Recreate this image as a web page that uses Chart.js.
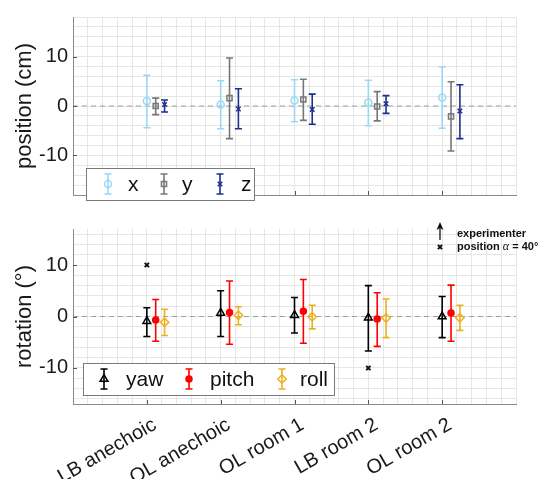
<!DOCTYPE html>
<html>
<head>
<meta charset="utf-8">
<script src="https://cdn.jsdelivr.net/npm/chart.js@4.4.1/dist/chart.umd.min.js"></script>
<style>
  html, body { margin: 0; padding: 0; background: #fff; }
  #wrap { position: relative; width: 546px; height: 479px; overflow: hidden; }
  #posBox { position: absolute; left: 0; top: 0; width: 546px; height: 212px; }
  #rotBox { position: absolute; left: 0; top: 212px; width: 546px; height: 267px; }
</style>
</head>
<body>
<div id="wrap">
  <div id="posBox"><canvas id="posChart" width="546" height="212"></canvas></div>
  <div id="rotBox"><canvas id="rotChart" width="546" height="267"></canvas></div>
</div>
<script>
// --- 1. Data ---
const categories = ['LB anechoic', 'OL anechoic', 'OL room 1', 'LB room 2', 'OL room 2'];
const seriesOffset = [0, 0.12, 0.24];

// position (cm): mean, bottom and top of the error bar
const posX     = [1.0, 0.3, 1.1, 0.7, 1.7];
const posXLow  = [-4.4, -4.6, -3.2, -4.0, -4.5];
const posXHigh = [6.2, 5.1, 5.3, 5.2, 7.9];
const posY     = [0.0, 1.6, 1.3, -0.1, -2.1];
const posYLow  = [-1.75, -6.6, -2.9, -3.0, -9.1];
const posYHigh = [1.6, 9.7, 5.4, 2.9, 4.9];
const posZ     = [0.3, -0.6, -0.7, 0.45, -1.0];
const posZLow  = [-1.2, -4.6, -3.7, -1.5, -6.6];
const posZHigh = [1.2, 3.5, 2.4, 2.1, 4.3];

// rotation (deg)
const rotYaw       = [-0.9, 0.7, 0.26, -0.26, 0.0];
const rotYawLow    = [-3.9, -3.9, -3.2, -6.7, -4.1];
const rotYawHigh   = [1.7, 5.0, 3.7, 6.0, 3.9];
const rotPitch     = [-0.7, 0.8, 1.0, -0.5, 0.7];
const rotPitchLow  = [-4.8, -5.4, -5.2, -5.8, -4.8];
const rotPitchHigh = [3.3, 6.9, 7.2, 4.6, 6.1];
const rotRoll      = [-1.1, 0.26, -0.07, -0.3, -0.26];
const rotRollLow   = [-3.7, -1.6, -2.4, -4.1, -2.7];
const rotRollHigh  = [1.4, 1.9, 2.2, 3.4, 2.2];

// experimenter position alpha = 40 deg
const expCategory = [1, 4];
const expRotation = [10, -10];

const yTickLabels = [-10, 0, 10];

// --- 2. Helpers ---
Chart.defaults.font.family = "'Liberation Sans', Arial, sans-serif";
Chart.defaults.color = '#1a1a1a';

function seriesData(means, k) {
  return means.map((m, i) => ({ x: i + 1 + seriesOffset[k], y: m }));
}

function errSeries(label, means, low, high, k, color, style, radius, filled) {
  return {
    label: label,
    data: seriesData(means, k),
    low: low,
    high: high,
    borderColor: color,
    pointStyle: style,
    pointRadius: radius,
    pointBorderWidth: 1.5,
    pointBorderColor: color,
    pointBackgroundColor: filled ? color : 'rgba(0,0,0,0)',
    showLine: false,
    order: 1
  };
}

function zeroLine() {
  return {
    type: 'line',
    data: [{ x: 0, y: 0 }, { x: 6, y: 0 }],
    borderColor: '#a0a0a0',
    borderWidth: 1.2,
    borderDash: [5, 4],
    pointRadius: 0,
    order: 10
  };
}

// grid every 0.2 on x, every 2 on y
function gridTicks(from, to, step) {
  const out = [];
  const n = Math.round((to - from) / step);
  for (let i = 0; i <= n; i++) out.push({ value: +(from + i * step).toFixed(3) });
  return out;
}

// error bars drawn through the chart scales
const errorBars = {
  id: 'errorBars',
  afterDatasetsDraw(chart) {
    const { ctx, scales: { x, y } } = chart;
    chart.data.datasets.forEach(ds => {
      if (!ds.low) return;
      ctx.save();
      ctx.strokeStyle = ds.borderColor;
      ctx.lineWidth = 1.6;
      ds.data.forEach((p, j) => {
        const px = x.getPixelForValue(p.x);
        const top = y.getPixelForValue(ds.high[j]);
        const bot = y.getPixelForValue(ds.low[j]);
        ctx.beginPath();
        ctx.moveTo(px, top); ctx.lineTo(px, bot);
        ctx.moveTo(px - 3.5, top); ctx.lineTo(px + 3.5, top);
        ctx.moveTo(px - 3.5, bot); ctx.lineTo(px + 3.5, bot);
        ctx.stroke();
      });
      ctx.restore();
    });
  }
};

// inward ticks, legend box and the note
const panelExtras = {
  id: 'panelExtras',
  afterDraw(chart, args, opts) {
    const { ctx, scales: { x, y } } = chart;
    ctx.save();
    ctx.strokeStyle = '#555';
    ctx.lineWidth = 1;
    ctx.beginPath();
    categories.forEach((c, i) => {
      const px = Math.round(x.getPixelForValue(i + 1)) + 0.5;
      ctx.moveTo(px, y.bottom); ctx.lineTo(px, y.bottom - 4);
    });
    yTickLabels.forEach(v => {
      const py = Math.round(y.getPixelForValue(v)) + 0.5;
      ctx.moveTo(x.left, py); ctx.lineTo(x.left + 4, py);
    });
    ctx.stroke();

    // legend
    const lg = opts.legend;
    if (lg) {
      const [x0, y0, x1, y1] = lg.box;
      ctx.fillStyle = '#fff';
      ctx.fillRect(x0, y0, x1 - x0, y1 - y0);
      ctx.strokeStyle = '#7a7a7a';
      ctx.lineWidth = 1;
      ctx.strokeRect(x0 + 0.5, y0 + 0.5, x1 - x0, y1 - y0);
      const cy = (y0 + y1) / 2;
      lg.items.forEach((it, n) => {
        const ds = chart.data.datasets[it.dataset];
        ctx.strokeStyle = ds.borderColor;
        ctx.lineWidth = 1.6;
        ctx.beginPath();
        ctx.moveTo(it.iconX, cy - 10); ctx.lineTo(it.iconX, cy + 10);
        ctx.moveTo(it.iconX - 3.5, cy - 10); ctx.lineTo(it.iconX + 3.5, cy - 10);
        ctx.moveTo(it.iconX - 3.5, cy + 10); ctx.lineTo(it.iconX + 3.5, cy + 10);
        ctx.stroke();
        ctx.fillStyle = ds.pointBackgroundColor;
        ctx.lineWidth = 1.5;
        Chart.helpers.drawPoint(ctx, { pointStyle: ds.pointStyle, radius: ds.pointRadius, rotation: 0, borderWidth: 1.5 }, it.iconX, cy);
        ctx.fillStyle = '#111';
        ctx.font = "21px 'Liberation Sans', Arial, sans-serif";
        ctx.textBaseline = 'middle';
        ctx.textAlign = 'left';
        ctx.fillText(ds.label, it.textX, cy + 1);
      });
    }

    // experimenter note
    const nt = opts.note;
    if (nt) {
      ctx.strokeStyle = '#111';
      ctx.fillStyle = '#111';
      ctx.lineWidth = 1.3;
      ctx.beginPath();
      ctx.moveTo(nt.x, nt.arrowTop + 4); ctx.lineTo(nt.x, nt.arrowBottom);
      ctx.stroke();
      ctx.beginPath();
      ctx.moveTo(nt.x, nt.arrowTop);
      ctx.lineTo(nt.x - 3.5, nt.arrowTop + 8);
      ctx.lineTo(nt.x, nt.arrowTop + 6);
      ctx.lineTo(nt.x + 3.5, nt.arrowTop + 8);
      ctx.closePath();
      ctx.fill();
      ctx.lineWidth = 2;
      Chart.helpers.drawPoint(ctx, { pointStyle: 'crossRot', radius: 3, rotation: 0, borderWidth: 2 }, nt.x, nt.line2);
      ctx.textBaseline = 'middle';
      ctx.textAlign = 'left';
      const bold = "bold 11px 'Liberation Sans', Arial, sans-serif";
      ctx.font = bold;
      ctx.fillText('experimenter', nt.textX, nt.line1);
      let tx = nt.textX;
      ctx.fillText('position ', tx, nt.line2);
      tx += ctx.measureText('position ').width;
      ctx.font = "italic 12px 'Liberation Serif', serif";
      ctx.fillText('\u03b1', tx, nt.line2);
      tx += ctx.measureText('\u03b1').width;
      ctx.font = bold;
      ctx.fillText(' = 40\u00b0', tx, nt.line2);
    }
    ctx.restore();
  }
};

function panelOptions(yMin, yMax, yTitle, xHeight, padTop, extras) {
  return {
    responsive: false,
    animation: false,
    devicePixelRatio: 1,
    layout: { padding: { top: padTop, right: 30, left: 0, bottom: 0 } },
    plugins: {
      legend: { display: false },
      tooltip: { enabled: false },
      panelExtras: extras
    },
    scales: {
      x: {
        type: 'linear',
        min: 0,
        max: 6,
        grid: { color: '#e6e6e6', drawTicks: false, lineWidth: 1 },
        border: { color: '#8a8a8a', width: 1 },
        afterBuildTicks: (s) => { s.ticks = gridTicks(0, 6, 0.2); },
        ticks: {
          autoSkip: false,
          minRotation: 30,
          maxRotation: 30,
          padding: 9,
          labelOffset: 8,
          font: { size: 20 },
          color: '#1a1a1a',
          callback: (v) => {
            const r = Math.round(v);
            if (Math.abs(v - r) < 1e-6 && r >= 1 && r <= 5 && xHeight > 20) return categories[r - 1];
            return '';
          }
        },
        afterFit: (s) => { s.height = xHeight; }
      },
      y: {
        min: yMin,
        max: yMax,
        grid: { color: '#e6e6e6', drawTicks: false, lineWidth: 1 },
        border: { color: '#8a8a8a', width: 1 },
        title: { display: true, text: yTitle, font: { size: 22 }, color: '#1a1a1a', padding: { top: 12, bottom: 0 } },
        afterBuildTicks: (s) => { s.ticks = gridTicks(-16, 16, 2).concat(yMax >= 18 ? [{ value: -18 }, { value: 18 }] : []); },
        ticks: {
          autoSkip: false,
          padding: 5,
          font: { size: 20 },
          color: '#1a1a1a',
          callback: (v) => (yTickLabels.includes(v) ? String(v) : '')
        },
        afterFit: (s) => { s.width = 73; }
      }
    }
  };
}

// --- 3. Charts ---
window.onload = function () {
  new Chart(document.getElementById('posChart').getContext('2d'), {
    type: 'scatter',
    data: {
      datasets: [
        errSeries('x', posX, posXLow, posXHigh, 0, '#9bd8f4', 'circle', 3.5, false),
        errSeries('y', posY, posYLow, posYHigh, 1, '#777777', 'rect', 3.6, false),
        errSeries('z', posZ, posZLow, posZHigh, 2, '#1b2f8c', 'crossRot', 3.2, false),
        zeroLine()
      ]
    },
    options: panelOptions(-18, 18, 'position (cm)', 7, 8, {
      legend: {
        box: [86, 168, 254, 200],
        items: [
          { dataset: 0, iconX: 108, textX: 128 },
          { dataset: 1, iconX: 164, textX: 182 },
          { dataset: 2, iconX: 220, textX: 241 }
        ]
      }
    }),
    plugins: [errorBars, panelExtras]
  });

  const expPoints = expCategory.map((c, i) => ({ x: c, y: expRotation[i] }));

  new Chart(document.getElementById('rotChart').getContext('2d'), {
    type: 'scatter',
    data: {
      datasets: [
        errSeries('yaw', rotYaw, rotYawLow, rotYawHigh, 0, '#000000', 'triangle', 4.5, false),
        errSeries('pitch', rotPitch, rotPitchLow, rotPitchHigh, 1, '#ff0000', 'circle', 3, true),
        errSeries('roll', rotRoll, rotRollLow, rotRollHigh, 2, '#edb120', 'rectRot', 4.2, false),
        {
          label: 'experimenter',
          data: expPoints,
          pointStyle: 'crossRot',
          pointRadius: 3,
          pointBorderWidth: 2,
          pointBorderColor: '#111',
          borderColor: '#111',
          order: 1
        },
        zeroLine()
      ]
    },
    options: panelOptions(-17, 17, 'rotation (\u00b0)', 75, 10, {
      legend: {
        box: [83, 151, 334, 183],
        items: [
          { dataset: 0, iconX: 104, textX: 126 },
          { dataset: 1, iconX: 189, textX: 210 },
          { dataset: 2, iconX: 282, textX: 300 }
        ]
      },
      note: { x: 440, arrowTop: 10, arrowBottom: 28, line1: 22, line2: 35, textX: 457 }
    }),
    plugins: [errorBars, panelExtras]
  });
};
</script>
</body>
</html>
